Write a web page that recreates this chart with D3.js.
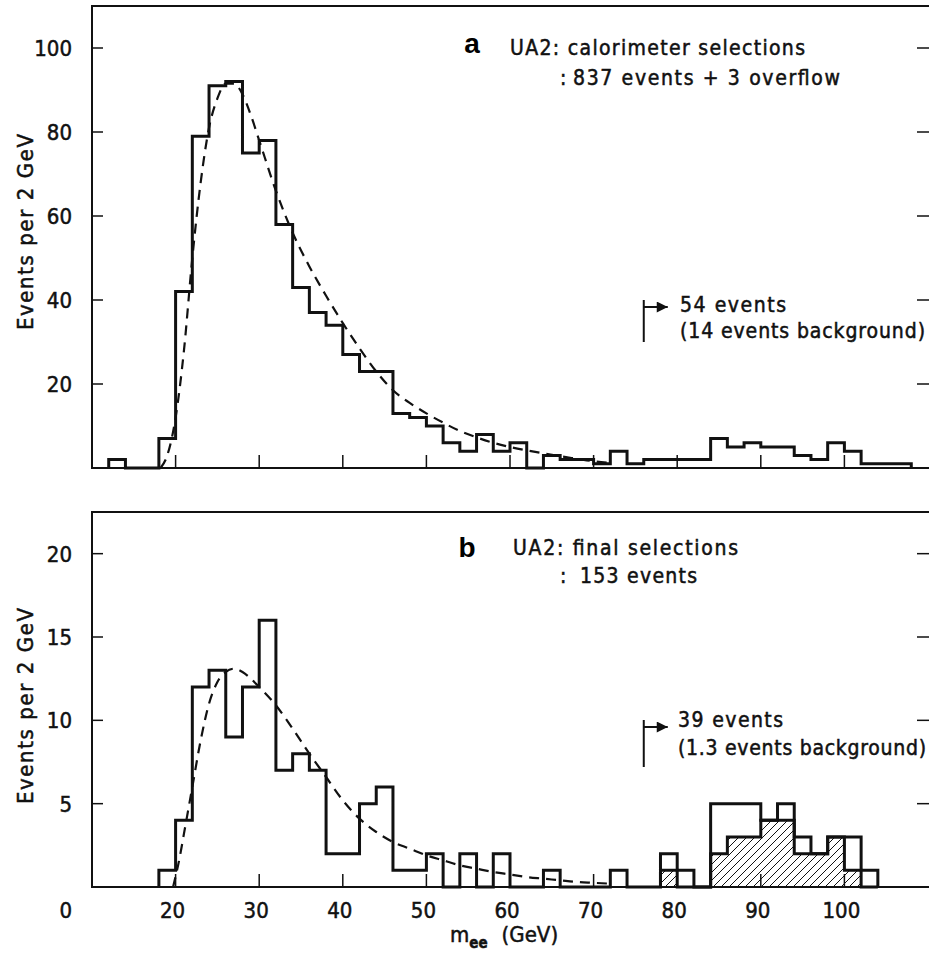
<!DOCTYPE html>
<html lang="en">
<head>
  <meta charset="UTF-8">
  <title>UA2 m_ee</title>
  <script src="https://d3js.org/d3.v7.min.js"></script>
  <style>
    html, body { margin: 0; padding: 0; background: #fff; }
    svg { display: block; }
    .lab { font-family: "DejaVu Sans Condensed", "DejaVu Sans", sans-serif; fill: #111; stroke: #111; stroke-width: 0.5; }
    .frame { stroke: #111; stroke-width: 2; fill: none; }
    .hist { stroke: #111; stroke-width: 3; fill: none; stroke-linejoin: miter; }
    .fit { stroke: #111; stroke-width: 2.2; fill: none; stroke-dasharray: 10,7; }
  </style>
</head>
<body>
  <svg id="chart" width="929" height="953"></svg>
  <script>
    // bin lower edges (GeV), bins are 2 GeV wide
    const topBins = [12,14,16,18,20,22,24,26,28,30,32,34,36,38,40,42,44,46,48,50,52,54,56,58,
                     60,62,64,66,68,70,72,74,76,78,80,82,84,86,88,90,92,94,96,98,100,102,104,106];
    const topCounts = [2,0,0,7,42,79,91,92,75,78,58,43,37,34,27,23,23,13,12,10,6,4,8,4,
                       6,0,3,2,2,1,4,1,2,2,2,2,7,5,6,5,5,3,2,6,4,1,1,1];

    const botBins = [18,20,22,24,26,28,30,32,34,36,38,40,42,44,46,48,50,52,54,56,58,60,
                     62,64,66,68,70,72,74,76,78,80,82,84,86,88,90,92,94,96,98,100,102];
    const botCounts = [1,4,12,13,9,12,16,7,8,7,2,2,5,6,1,1,2,0,2,0,2,0,
                       0,1,0,0,0,1,0,0,2,1,0,5,5,5,4,5,3,2,3,3,1];
    // hatched part (bins from 78 GeV)
    const hatchBins = [78,80,82,84,86,88,90,92,94,96,98,100,102];
    const hatchCounts = [1,0,0,2,3,3,4,4,2,2,3,1,0];

    // dashed fitted curves [GeV, events]
    const topFit = [[18.2,0],[19,3],[20,12],[21,28],[22,50],[23,68],[24,81],[25,88],[26,91.5],
                    [27,91.5],[28,89],[29,84],[30,78],[32,66],[34,56],[36,48],[38,41],[40,34.5],
                    [42,28.5],[44,23],[46,18.5],[48,15.5],[50,13],[52,10.8],[54,8.8],[56,7.3],
                    [58,6],[60,5],[62,4.2],[64,3.5],[66,2.8],[68,2.2],[70,1.6],[72,1.2]];
    const botFit = [[19.7,0],[20.5,1.8],[21,3.2],[22,6],[23,8.8],[24,11],[25,12.3],[26,12.9],
                    [27,13.1],[28,12.9],[29,12.5],[30,12],[32,10.9],[34,9.5],[36,8],[38,6.6],
                    [40,5.2],[42,4.1],[44,3.3],[46,2.7],[48,2.3],[50,1.9],[52,1.6],[54,1.3],
                    [56,1.1],[58,0.9],[60,0.75],[62,0.6],[64,0.5],[66,0.4],[68,0.3],[70,0.25],[72,0.2]];

    const xTicks = [20,30,40,50,60,70,80,90,100];
    const topYTicks = [20,40,60,80,100];
    const botYTicks = [0,5,10,15,20];
    const massCut = 76;
    const binWidth = 2;

    const svg = d3.select("#chart");

    const defs = svg.append("defs");
    defs.append("pattern")
      .attr("id", "hatch")
      .attr("patternUnits", "userSpaceOnUse")
      .attr("width", 8).attr("height", 8)
      .append("path")
      .attr("d", "M-2,2 l4,-4 M0,8 l8,-8 M6,10 l4,-4")
      .attr("stroke", "#111").attr("stroke-width", 1);
    defs.append("marker")
      .attr("id", "arrow")
      .attr("viewBox", "0 -5 10 10")
      .attr("refX", 10).attr("refY", 0)
      .attr("markerUnits", "userSpaceOnUse")
      .attr("markerWidth", 12).attr("markerHeight", 11)
      .attr("orient", "auto")
      .append("path")
      .attr("d", "M0,-5L10,0L0,5Z")
      .attr("fill", "#111");

    const x = d3.scaleLinear().domain([10, 110]).range([92, 928]);

    function stepPoints(bins, counts) {
      const pts = [[bins[0], 0]];
      bins.forEach((b, i) => {
        pts.push([b, counts[i]]);
        pts.push([b + binWidth, counts[i]]);
      });
      pts.push([bins[bins.length - 1] + binWidth, 0]);
      return pts;
    }

    function panel(opts) {
      const y = d3.scaleLinear().domain(opts.yDomain).range([opts.bottom, opts.top]);
      const g = svg.append("g");

      // hatched part
      if (opts.hatch) {
        const hp = stepPoints(opts.hatch.bins, opts.hatch.counts);
        g.append("path")
          .attr("fill", "url(#hatch)")
          .attr("d", d3.area().x(d => x(d[0])).y0(y(0)).y1(d => y(d[1]))(hp));
        g.append("path").attr("class", "hist")
          .attr("d", d3.line().x(d => x(d[0])).y(d => y(d[1]))(hp));
      }

      // histogram
      g.append("path").attr("class", "hist")
        .attr("d", d3.line().x(d => x(d[0])).y(d => y(d[1]))(stepPoints(opts.bins, opts.counts)));

      // fit
      g.append("path").attr("class", "fit")
        .attr("d", d3.line().x(d => x(d[0])).y(d => y(d[1])).curve(d3.curveMonotoneX)(opts.fit));

      // frame
      g.append("path").attr("class", "frame")
        .attr("d", `M930,${opts.top}H${x(10)}V${opts.bottom}H930`);

      // x ticks (inward)
      g.selectAll(".xt").data(xTicks).enter().append("line")
        .attr("x1", d => x(d)).attr("x2", d => x(d))
        .attr("y1", opts.bottom).attr("y2", opts.bottom - 13)
        .attr("stroke", "#111").attr("stroke-width", 1.5);

      // y ticks left and right (inward)
      const yt = opts.yTicks.filter(d => d > 0);
      g.selectAll(".yl").data(yt).enter().append("line")
        .attr("x1", x(10)).attr("x2", x(10) + 11)
        .attr("y1", d => y(d)).attr("y2", d => y(d))
        .attr("stroke", "#111").attr("stroke-width", 1.5);
      g.selectAll(".yr").data(yt).enter().append("line")
        .attr("x1", 929).attr("x2", 917)
        .attr("y1", d => y(d)).attr("y2", d => y(d))
        .attr("stroke", "#111").attr("stroke-width", 1.5);

      // y tick labels
      g.selectAll(".ylab").data(opts.yTicks).enter().append("text")
        .attr("class", "lab")
        .attr("x", 72)
        .attr("y", d => d === 0 ? 918 : y(d) + 8)
        .attr("text-anchor", "end")
        .attr("font-size", 22)
        .text(d => d);

      // y title
      g.append("text").attr("class", "lab")
        .attr("transform", `translate(33,${opts.titleY}) rotate(-90)`)
        .attr("text-anchor", "middle")
        .attr("font-size", 22)
        .attr("textLength", 196).attr("lengthAdjust", "spacing")
        .text("Events per 2 GeV");

      // panel letter
      g.append("text")
        .attr("x", opts.letter.x).attr("y", opts.letter.y)
        .attr("font-family", "Liberation Sans, Arial, sans-serif")
        .attr("font-weight", "bold").attr("font-size", 28)
        .attr("text-anchor", "middle")
        .text(opts.letter.t);

      // header lines
      opts.lines.forEach(l => {
        g.append("text").attr("class", "lab")
          .attr("x", l.x).attr("y", l.y)
          .attr("font-size", 21)
          .attr("textLength", l.w).attr("lengthAdjust", "spacing")
          .text(l.t);
      });

      // cut arrow
      const cx = x(massCut);
      g.append("line")
        .attr("x1", cx).attr("x2", cx)
        .attr("y1", opts.arrow.y0).attr("y2", opts.arrow.y1)
        .attr("stroke", "#111").attr("stroke-width", 2);
      g.append("line")
        .attr("x1", cx).attr("x2", cx + 24)
        .attr("y1", opts.arrow.ya).attr("y2", opts.arrow.ya)
        .attr("stroke", "#111").attr("stroke-width", 2)
        .attr("marker-end", "url(#arrow)");

      return y;
    }

    panel({
      top: 6, bottom: 468, yDomain: [0, 110],
      bins: topBins, counts: topCounts, fit: topFit,
      yTicks: topYTicks, titleY: 232,
      letter: { x: 472, y: 53, t: "a" },
      lines: [
        { x: 510, y: 55, w: 295, t: "UA2: calorimeter selections" },
        { x: 560, y: 85, w: 6, t: ":" },
        { x: 573, y: 85, w: 267, t: "837 events + 3 overflow" },
        { x: 680, y: 312, w: 106, t: "54 events" },
        { x: 680, y: 338, w: 245, t: "(14 events background)" }
      ],
      arrow: { y0: 300, y1: 342, ya: 307 }
    });

    panel({
      top: 512, bottom: 887, yDomain: [0, 22.5],
      bins: botBins, counts: botCounts, fit: botFit,
      hatch: { bins: hatchBins, counts: hatchCounts },
      yTicks: botYTicks, titleY: 706,
      letter: { x: 467, y: 557, t: "b" },
      lines: [
        { x: 513, y: 555, w: 225, t: "UA2: final selections" },
        { x: 560, y: 583, w: 6, t: ":" },
        { x: 580, y: 583, w: 117, t: "153 events" },
        { x: 678, y: 727, w: 105, t: "39 events" },
        { x: 678, y: 755, w: 248, t: "(1.3 events background)" }
      ],
      arrow: { y0: 720, y1: 767, ya: 727 }
    });

    // x tick labels (bottom panel only)
    svg.selectAll(".xlab").data(xTicks).enter().append("text")
      .attr("class", "lab")
      .attr("x", d => x(d) - 3).attr("y", 918)
      .attr("text-anchor", "middle")
      .attr("font-size", 22)
      .text(d => d);

    // x title
    const xt = svg.append("text").attr("class", "lab")
      .attr("x", 450).attr("y", 942).attr("font-size", 22);
    xt.append("tspan").text("m");
    xt.append("tspan").attr("dy", 6).attr("font-size", 15).attr("font-weight", "bold").text("ee");
    xt.append("tspan").attr("dy", -6).attr("dx", 14).text("(GeV)");
  </script>
</body>
</html>
